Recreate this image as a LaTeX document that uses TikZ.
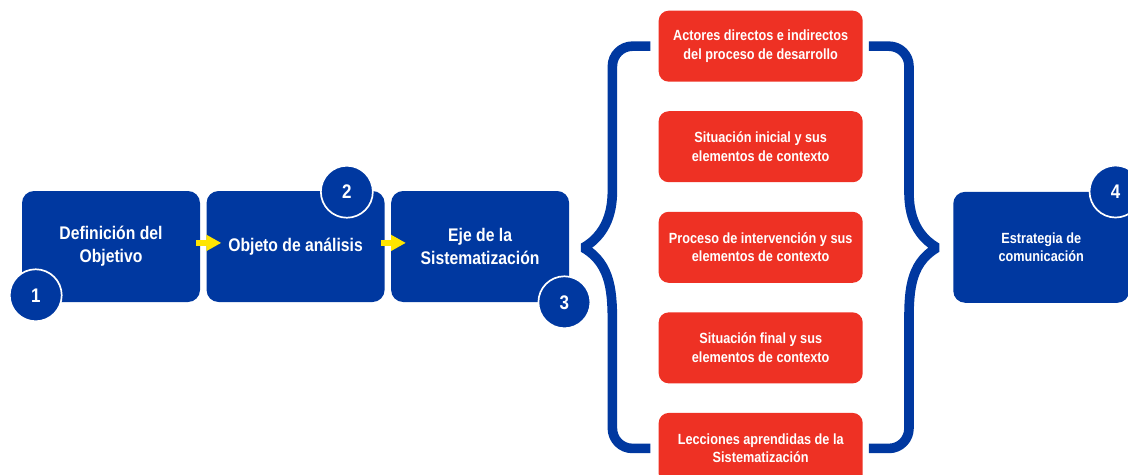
\documentclass[tikz,border=0pt]{standalone}
\usepackage{fontspec}
\setmainfont{Liberation Sans}[FakeStretch=0.86]
\usetikzlibrary{arrows.meta,positioning}
\definecolor{ejeblue}{HTML}{0038A0}
\definecolor{ejered}{HTML}{EE3124}
\definecolor{ejeyellow}{HTML}{FFE500}

\begin{document}
\begin{tikzpicture}[
        font=\bfseries,
        node distance=1.5mm,
        >=Latex,
        stage/.style={fill=ejeblue, text=white, rounded corners=3mm, align=center, minimum width=4.45cm, minimum height=2.775cm, inner sep=0pt, font=\fontsize{13}{16.4}\selectfont\bfseries},
        item/.style={fill=ejered, text=white, rounded corners=2.5mm, align=center, minimum width=5.1cm, minimum height=1.775cm, inner sep=0pt, font=\fontsize{10.5}{13.2}\selectfont\bfseries},
        num/.style={circle, fill=ejeblue, draw=white, line width=1.2pt, text=white, minimum size=1.3cm, inner sep=0pt, font=\fontsize{14}{14}\selectfont\bfseries},
        flow/.style={draw=ejeyellow, line width=1.5mm, -{Triangle[length=3.7mm,width=3.8mm]}},
        brace/.style={draw=ejeblue, line width=2.4mm, line join=bevel}
    ]
        \useasboundingbox (0,0) rectangle (28.2,11.85);

        \node[stage] (def) at (2.775,5.6875) {Definición del\\Objetivo};
        \node[stage, right=of def] (obj) {Objeto de análisis};
        \node[stage, right=of obj] (eje) {Eje de la\\Sistematización};

        \node[item, right=2.225cm of eje, yshift=-0.2mm] (inicial) {Proceso de intervención y sus\\elementos de contexto};
        \node[item, above=7.25mm of inicial] (sit) {Situación inicial y sus\\elementos de contexto};
        \node[item, above=7.25mm of sit] (act) {Actores directos e indirectos\\del proceso de desarrollo};
        \node[item, below=7.25mm of inicial] (fin) {Situación final y sus\\elementos de contexto};
        \node[item, below=7.25mm of fin] (lec) {Lecciones aprendidas de la\\Sistematización};

        \node[stage, minimum width=4.4cm, right=2.25cm of inicial, font=\fontsize{10.5}{13.2}\selectfont\bfseries] (com) {Estrategia de\\comunicación};

        \draw[flow] ([xshift=-1mm,yshift=0.9mm]def.east) -- ([xshift=3.75mm,yshift=0.9mm]obj.west);
        \draw[flow] ([xshift=-1mm,yshift=0.9mm]obj.east) -- ([xshift=3.75mm,yshift=0.9mm]eje.west);

        \node[num] (n1) at ([xshift=3.5mm,yshift=1.75mm]def.south west) {1};
        \node[num] (n2) at ([xshift=-9.5mm,yshift=-0.25mm]obj.north east) {2};
        \node[num] (n3) at ([xshift=-1.25mm]eje.south east) {3};
        \node[num] (n4) at ([xshift=-3.5mm]com.north east) {4};

        % llaves
        \coordinate (tipL) at ([xshift=-18.75mm,yshift=-0.1mm]inicial.west);
        \coordinate (tipR) at ([xshift=18.5mm,yshift=-0.1mm]inicial.east);
        \draw[brace] ([xshift=-2mm]act.west) [rounded corners=5mm] -| ([xshift=7.25mm,yshift=20mm]tipL)
            [sharp corners] to[out=-90,in=30] (tipL) to[out=-30,in=90] ([xshift=7.25mm,yshift=-20mm]tipL)
            [rounded corners=5mm] |- ([xshift=-2mm]lec.west);
        \draw[brace] ([xshift=1.5mm]act.east) [rounded corners=5mm] -| ([xshift=-7mm,yshift=20mm]tipR)
            [sharp corners] to[out=-90,in=150] (tipR) to[out=-150,in=90] ([xshift=-7mm,yshift=-20mm]tipR)
            [rounded corners=5mm] |- ([xshift=1.5mm]lec.east);
    \end{tikzpicture}
\end{document}
